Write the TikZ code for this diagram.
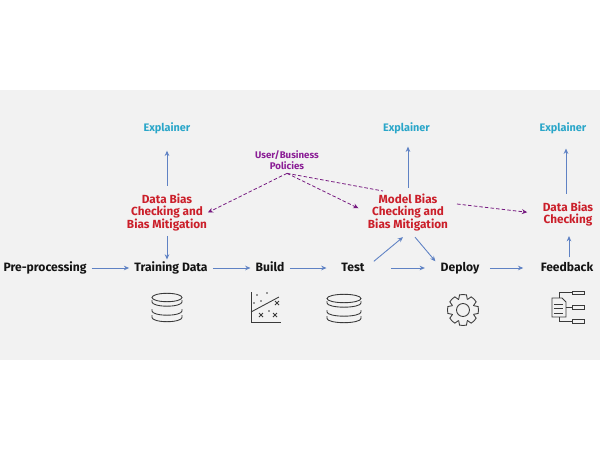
\documentclass[tikz,border=0pt]{standalone}
\usepackage{fontspec}
\setmainfont{Fira Sans}
\usepackage{tikz}
\usetikzlibrary{arrows.meta,shapes.geometric,positioning,calc}
\definecolor{bandgray}{HTML}{F2F2F2}
\definecolor{flowblue}{HTML}{5F82C4}
\definecolor{biasred}{HTML}{CB1F2A}
\definecolor{explcyan}{HTML}{2AA6C9}
\definecolor{policypurple}{HTML}{8B1E96}
\definecolor{iconline}{HTML}{3A3A3A}

\begin{document}
\begin{tikzpicture}[
    x=0.02cm, y=-0.02cm,
    stage/.style={font=\fontsize{6.9}{7.4}\selectfont\bfseries, text=black!92, inner sep=0pt, outer xsep=3pt, outer ysep=0.5pt, text height=5.2pt, text depth=1.4pt},
    bias/.style={font=\fontsize{6.7}{7.2}\selectfont\bfseries, text=biasred, align=center, inner sep=0pt, outer sep=0.5pt},
    expl/.style={font=\fontsize{6.2}{7}\selectfont\bfseries, text=explcyan, inner sep=0pt, outer sep=0pt},
    policy/.style={font=\fontsize{5.5}{6.6}\selectfont\bfseries, text=policypurple, align=center, inner sep=0pt, outer sep=2pt},
    arr/.style={-{Stealth[length=3pt,width=2.6pt]}, flowblue, line width=0.5pt},
    dasharr/.style={-{Stealth[length=3pt,width=2.8pt]}, policypurple!85!black, dashed, dash pattern=on 2pt off 1.2pt, line width=0.45pt},
    icon/.style={iconline, line width=0.5pt}
]
\useasboundingbox (0,0) rectangle (600,450);
\fill[bandgray] (0,90) rectangle (600,360);

% main row
\node[stage] (pre) at (45,268) {Pre-processing};
\node[stage] (train) at (171,268) {Training Data};
\node[stage] (build) at (270,268) {Build};
\node[stage] (test) at (353,268) {Test};
\node[stage] (deploy) at (460,268) {Deploy};
\node[stage] (feed) at (567,268) {Feedback};

% checks and explainers
\node[bias] (dbias) at (167,212.5) {Data Bias\\Checking and\\Bias Mitigation};
\node[bias] (mbias) at (408,212.5) {Model Bias\\Checking and\\Bias Mitigation};
\node[bias] (fbias) at (568,214) {Data Bias\\Checking};
\node[expl] (expa) at (167,128) {Explainer};
\node[expl] (expb) at (406.5,128) {Explainer};
\node[expl] (expc) at (563,128) {Explainer};
\node[policy] (pol) at (287,160) {User/Business\\Policies};

% free ends of the line that runs behind the model text
\coordinate (dashin) at (383,191);
\coordinate (dashout) at (457,204);

\draw[arr] (pre) -- (train);
\draw[arr] (train) -- (build);
\draw[arr, shorten >=5.5pt] (build) -- (test);
\draw[arr, shorten <=12pt, shorten >=6pt] (test) -- (deploy);
\draw[arr, shorten <=3pt, shorten >=7pt] (deploy) -- (feed);
\draw[arr, shorten <=2.2pt, shorten >=1pt] (dbias.south) -- (dbias.south |- train.north);
\draw[arr, shorten <=4pt, shorten >=9.7pt] (dbias.north) -- (expa.south);
\draw[arr] ($(test.north east)+(4,0)$) -- ($(mbias.south)+(-5,5)$);
\draw[arr] ($(mbias.south)+(7,5)$) -- ($(deploy.north west)+(0,0)$);
\draw[arr, shorten <=3pt, shorten >=7.4pt] (mbias.north) -- (mbias.north |- expb.south);
\draw[arr, shorten >=5pt] ($(feed.north)+(2,-4)$) -- ($(fbias.south)+(1,0)$);
\draw[arr, shorten <=4pt, shorten >=8.5pt] ($(fbias.north)+(-2,0)$) -- ($(expc.south)+(3,0)$);

\draw[dasharr] (pol.south) -- (dbias.east);
\draw[dasharr, shorten >=5.5pt] (pol.south) -- (mbias.west);
\draw[dasharr, -] (pol.south) -- (dashin);
\draw[dasharr, shorten >=8.5pt] (dashout) -- (fbias.west);

% database icons
\foreach \nm/\cx/\cy/\rw in {dba/167/308/15,dbb/344/309/17} {
  \begin{scope}[icon, shift={(\cx,\cy)}]
    \draw (0,-10.5) ellipse [x radius=\rw, y radius=4.2];
    \draw (-\rw,-8) -- (-\rw,-6) arc [start angle=180, end angle=0, x radius=\rw, y radius=4.2] -- (\rw,-8);
    \draw (-\rw,1) -- (-\rw,3) arc [start angle=180, end angle=0, x radius=\rw, y radius=4.2] -- (\rw,1);
    \draw (-\rw,7) -- (-\rw,9.5) arc [start angle=180, end angle=0, x radius=\rw, y radius=4.2] -- (\rw,7);
  \end{scope}
}

% chart icon
\begin{scope}[icon]
  \draw (251,292) -- (251,322) -- (281,322);
  \draw (251,312) -- (279,297);
  \foreach \px/\py in {257/295,267/293,254/303,261/301,269/311} \fill (\px,\py) circle (0.9);
  \foreach \px/\py in {277/303,261/315,275/315}
    \draw (\px-2,\py-2) -- (\px+2,\py+2) (\px-2,\py+2) -- (\px+2,\py-2);
\end{scope}

% gear icon
\begin{scope}[icon, shift={(463,310)}]
  \draw (0,0) circle (6.5);
  \foreach \a in {0,45,...,315}
    \draw (\a-22:11.5) -- (\a-13:15.5) arc [start angle=\a-13, end angle=\a+13, radius=15.5] -- (\a+22:11.5) arc [start angle=\a+22, end angle=\a+23, radius=11.5];
\end{scope}

% tree icon
\begin{scope}[icon]
  \draw (552,298) -- (562,298) -- (566,302) -- (566,317) -- (552,317) -- cycle;
  \foreach \ly in {304,308,313} \draw (554,\ly) -- (563,\ly);
  \draw (559,298) -- (559,292.5) -- (572,292.5);
  \draw (566,307) -- (572,307);
  \draw (559,317) -- (559,321) -- (572,321);
  \draw (572,291) rectangle (584,294.5);
  \draw (572,305) rectangle (584,309);
  \draw (572,319) rectangle (584,323);
\end{scope}
\end{tikzpicture}
\end{document}
